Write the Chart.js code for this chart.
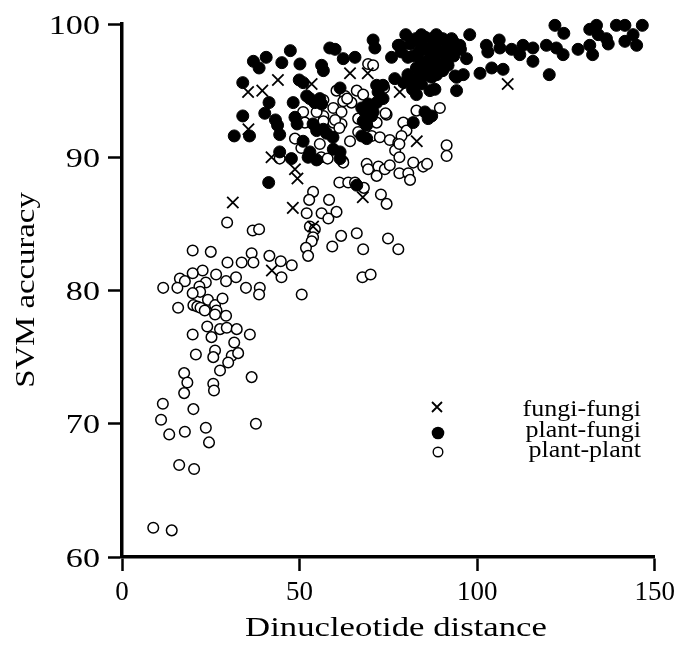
<!DOCTYPE html>
<html>
<head>
<meta charset="utf-8">
<script src="https://cdn.jsdelivr.net/npm/chart.js@4.4.1/dist/chart.umd.min.js"></script>
<style>
  html, body { margin: 0; padding: 0; background: #fff; }
  #chart { display: block; }
</style>
</head>
<body>
<canvas id="chart" width="681" height="646"></canvas>
<script>
// ── Data ───────────────────────────────────────────────────────────────────

const seriesLabels = ['fungi-fungi', 'plant-fungi', 'plant-plant'];
const xTicks = [0, 50, 100, 150];
const yTicks = [60, 70, 80, 90, 100];

// [dinucleotide distance, SVM accuracy]
const fungiFungi = [
  [31.2, 86.6], [35.5, 94.9], [35.6, 92.1], [39.5, 95.0], [43.9, 95.8], [42.1, 90.0],
  [42.2, 81.5], [48.1, 86.2], [48.7, 89.1], [49.4, 88.4], [53.4, 95.5], [53.8, 84.8],
  [64.2, 96.3], [69.2, 96.3], [67.8, 87.0], [78.2, 94.9], [83.0, 91.2], [108.6, 95.5],
];

const plantFungi = [
  [34.0, 95.6], [37.0, 97.2], [38.6, 96.7], [40.6, 97.5], [45.0, 97.1], [47.4, 98.0],
  [49.9, 95.8], [31.6, 91.6], [35.9, 91.6], [34.0, 93.1], [41.4, 94.1], [40.2, 93.3],
  [43.2, 92.8], [43.8, 92.4], [44.4, 91.7], [44.4, 90.4], [41.3, 88.1], [48.2, 94.1],
  [48.7, 93.0], [49.3, 92.5], [47.7, 89.9],
  [58.5, 98.2], [60.0, 98.1], [62.3, 97.4], [65.6, 97.5], [70.7, 98.8], [71.2, 98.2],
  [75.9, 97.5], [78.2, 98.4], [79.9, 99.2], [84.3, 99.2], [82.0, 97.6], [82.9, 96.7],
  [84.8, 96.9], [85.8, 98.1], [87.2, 98.9], [87.6, 97.2], [89.5, 98.9], [91.4, 98.6],
  [93.2, 98.7], [95.1, 98.4], [97.9, 99.2], [89.5, 97.9], [91.4, 97.6], [92.8, 97.9],
  [89.5, 96.9], [91.8, 96.9], [88.6, 96.2], [87.2, 96.0], [86.2, 96.5], [83.9, 96.4],
  [82.0, 95.7], [84.3, 95.5], [86.7, 95.0], [88.1, 95.1], [94.2, 96.0], [96.1, 96.2],
  [97.0, 97.4], [94.2, 95.0], [82.9, 94.7], [85.3, 93.4], [87.2, 93.1], [86.2, 92.9],
  [82.0, 92.6], [76.8, 95.9], [73.5, 95.4], [72.1, 94.9], [73.5, 94.4], [71.7, 94.1],
  [69.3, 94.0], [70.7, 93.4], [68.4, 93.4], [67.5, 93.7], [71.7, 95.4], [50.1, 97.0],
  [56.2, 96.9], [56.7, 96.5], [51.0, 95.6], [52.0, 94.6], [52.9, 94.4], [55.7, 94.4],
  [56.2, 94.0], [54.3, 94.1], [61.4, 95.2], [68.9, 92.4], [67.9, 92.7], [70.3, 93.1],
  [67.5, 91.6], [68.9, 91.4], [53.8, 92.5], [54.8, 92.0], [56.7, 92.1], [57.6, 91.8],
  [59.4, 91.5], [59.5, 90.6], [61.4, 90.4], [52.9, 90.4], [52.4, 90.0], [54.8, 89.8],
  [51.0, 91.2], [61.4, 89.9], [66.1, 87.9],
  [80.5, 97.5], [81.2, 98.5], [82.7, 98.9], [84.2, 98.4], [85.4, 99.0], [88.5, 99.2],
  [90.3, 98.9], [92.8, 98.9], [94.0, 98.4], [91.6, 97.9], [89.1, 97.8], [86.7, 97.5],
  [84.2, 97.2], [80.5, 96.2], [83.0, 95.9], [85.5, 96.2], [87.3, 96.8], [89.1, 96.8],
  [91.0, 97.2], [93.4, 97.6], [95.3, 98.1], [87.9, 96.4], [90.3, 96.5], [83.6, 97.9],
  [86.1, 98.1], [81.8, 95.1], [79.3, 95.6], [88.5, 98.2], [77.8, 98.4], [78.7, 97.9],
  [102.6, 98.4], [103.0, 97.9], [106.2, 98.8], [106.4, 98.2], [109.7, 98.1], [112.0, 97.7],
  [112.9, 98.4], [115.7, 98.2], [115.7, 97.2], [119.5, 98.4], [122.3, 98.2], [124.2, 97.7],
  [121.9, 99.9], [124.4, 99.3], [120.3, 96.2], [128.4, 98.1], [131.7, 98.4], [132.5, 97.7],
  [131.7, 99.6], [133.6, 99.9], [134.1, 99.2], [136.4, 98.9], [136.9, 98.5], [139.2, 99.9],
  [141.6, 99.9], [141.6, 98.7], [143.9, 99.2], [144.9, 98.4], [146.5, 99.9], [100.8, 96.3],
  [104.1, 96.7], [107.3, 96.6], [93.8, 96.1],
];

const plantPlant = [
  [69.3, 97.0], [70.7, 96.9], [60.4, 95.0], [62.8, 94.6], [66.1, 95.0], [67.9, 94.7],
  [64.6, 94.1], [62.3, 94.2], [59.5, 93.7], [61.8, 93.4], [55.7, 94.1], [51.0, 93.4],
  [51.5, 92.6], [56.7, 93.1], [59.5, 92.6], [61.8, 92.5], [66.5, 92.9], [71.7, 92.6],
  [74.5, 93.2], [68.9, 92.6], [66.5, 91.9], [70.3, 91.6], [72.6, 91.5], [75.4, 91.3],
  [77.8, 91.1], [79.2, 92.6], [80.1, 92.0], [78.7, 91.6], [82.9, 93.5], [89.5, 93.7],
  [91.4, 90.9], [91.4, 90.1], [64.2, 91.2], [55.7, 91.0], [73.8, 95.2], [74.2, 93.3],
  [63.4, 94.4], [60.0, 92.8], [61.2, 92.2], [54.8, 93.4], [56.7, 92.7], [56.7, 94.3],
  [56.1, 90.0], [57.9, 89.9], [62.2, 89.7], [48.7, 91.4], [50.5, 90.7], [44.4, 89.9],
  [76.9, 90.5], [78.1, 90.0], [78.1, 91.0],
  [62.3, 89.6], [68.9, 89.5], [69.3, 89.1], [72.2, 89.3], [71.7, 88.6], [74.0, 89.1],
  [75.4, 89.4], [78.1, 88.8], [80.6, 88.8], [81.1, 88.3], [82.0, 89.6], [84.8, 89.3],
  [85.9, 89.5], [61.2, 88.1], [63.7, 88.1], [65.6, 88.1], [68.1, 87.7], [72.9, 87.2],
  [74.5, 86.5], [53.8, 87.4], [52.7, 86.8], [58.3, 86.8], [52.0, 85.8], [56.2, 85.8],
  [58.1, 85.4], [60.4, 85.9], [52.9, 84.8], [54.3, 84.6], [53.8, 84.0], [53.4, 83.7],
  [51.8, 83.2], [52.4, 82.6], [59.2, 83.3], [61.7, 84.1], [66.1, 84.3], [67.9, 83.1],
  [74.9, 83.9], [77.8, 83.1], [67.7, 81.0], [70.0, 81.2], [50.6, 79.7],
  [29.6, 85.1], [36.8, 84.5], [38.6, 84.6], [19.9, 83.0], [25.0, 82.9], [29.7, 82.1],
  [33.7, 82.1], [36.5, 82.8], [37.0, 82.1], [41.5, 82.6], [44.7, 82.2], [47.8, 81.9],
  [44.9, 81.0], [38.8, 80.2], [38.6, 79.7], [34.9, 80.2], [32.1, 81.0], [29.3, 80.7],
  [26.5, 81.2], [22.7, 81.5], [19.9, 81.3], [16.3, 80.9], [17.7, 80.7], [11.6, 80.2],
  [15.6, 80.2], [23.6, 80.6], [21.8, 80.3], [22.0, 79.9], [19.9, 79.8], [20.1, 78.9],
  [21.2, 78.8], [22.1, 78.7], [23.3, 78.5], [24.2, 79.3], [26.2, 78.9], [26.6, 78.5],
  [28.3, 79.4], [29.3, 78.1], [26.2, 78.2], [15.8, 78.7],
  [24.0, 77.3], [27.6, 77.1], [29.5, 77.2], [32.3, 77.1], [19.9, 76.7], [25.2, 76.5],
  [31.6, 76.1], [36.0, 76.7], [20.8, 75.2], [26.2, 75.5], [25.7, 75.0], [30.9, 75.1],
  [32.7, 75.3], [29.9, 74.6], [27.6, 74.0], [17.5, 73.8], [18.4, 73.1], [17.5, 72.3],
  [25.7, 73.0], [25.9, 72.5], [36.5, 73.5], [11.5, 71.5], [20.1, 71.1], [11.0, 70.3],
  [13.3, 69.2], [17.7, 69.4], [23.6, 69.7], [24.5, 68.6], [37.7, 70.0],
  [16.1, 66.9], [20.3, 66.6], [8.8, 62.2], [14.0, 62.0],
];

// ── Helpers ────────────────────────────────────────────────────────────────

const SERIF = '"Liberation Serif", "Times New Roman", Times, serif';
const toPoints = (arr) => arr.map(([x, y]) => ({ x, y }));

// the figure's type is a wide Times, so text is stretched horizontally
function wideText(ctx, text, x, y, size, sx, align, rot = 0) {
  ctx.save();
  ctx.translate(x, y);
  if (rot) ctx.rotate(rot);
  ctx.scale(sx, 1);
  ctx.font = size + 'px ' + SERIF;
  ctx.textAlign = align;
  ctx.textBaseline = 'alphabetic';
  ctx.fillText(text, 0, 0);
  ctx.restore();
}

const textPlugin = {
  id: 'textPlugin',
  afterDraw(chart) {
    const ctx = chart.ctx;
    const yScale = chart.scales.y;
    ctx.save();
    ctx.fillStyle = '#000';

    // y tick labels
    yTicks.forEach(v => {
      wideText(ctx, String(v), 100, yScale.getPixelForValue(v) + 9.5, 28, 1.22, 'right');
    });

    // axis titles
    wideText(ctx, 'Dinucleotide distance', 396, 636, 28, 1.24, 'center');
    wideText(ctx, 'SVM accuracy', 34, 290, 28, 1.17, 'center', -Math.PI / 2);

    // legend
    wideText(ctx, seriesLabels[0], 641, 416, 23, 1.13, 'right');
    wideText(ctx, seriesLabels[1], 641, 437, 23, 1.13, 'right');
    wideText(ctx, seriesLabels[2], 641, 457, 23, 1.13, 'right');

    ctx.strokeStyle = '#000';
    ctx.lineWidth = 1.8;
    ctx.beginPath();
    ctx.moveTo(432, 402); ctx.lineTo(442, 412);
    ctx.moveTo(442, 402); ctx.lineTo(432, 412);
    ctx.stroke();

    ctx.beginPath();
    ctx.arc(438, 433, 6.3, 0, Math.PI * 2);
    ctx.fill();

    ctx.beginPath();
    ctx.lineWidth = 1.4;
    ctx.fillStyle = '#fff';
    ctx.arc(438, 452, 4.8, 0, Math.PI * 2);
    ctx.fill();
    ctx.stroke();
    ctx.restore();
  },
};

// ── Chart ──────────────────────────────────────────────────────────────────

const axisGrid = {
  drawOnChartArea: false,
  drawTicks: true,
  tickLength: 14,
  tickWidth: 2.5,
  tickColor: '#000',
};

new Chart(document.getElementById('chart'), {
  type: 'scatter',
  data: {
    datasets: [
      {
        label: seriesLabels[0],
        data: toPoints(fungiFungi),
        pointStyle: 'crossRot',
        radius: 8,
        borderWidth: 1.8,
        borderColor: '#000',
        backgroundColor: '#000',
        order: 0,
        clip: false,
      },
      {
        label: seriesLabels[1],
        data: toPoints(plantFungi),
        pointStyle: 'circle',
        radius: 6,
        borderWidth: 1,
        borderColor: '#000',
        backgroundColor: '#000',
        order: 1,
        clip: false,
      },
      {
        label: seriesLabels[2],
        data: toPoints(plantPlant),
        pointStyle: 'circle',
        radius: 5.3,
        borderWidth: 1.5,
        borderColor: '#000',
        backgroundColor: '#fff',
        order: 2,
        clip: false,
      },
    ],
  },
  options: {
    responsive: false,
    animation: false,
    events: [],
    devicePixelRatio: 1,
    layout: { padding: { top: 24, right: 26, left: 0, bottom: 0 } },
    plugins: {
      legend: { display: false },
      tooltip: { enabled: false },
    },
    scales: {
      x: {
        type: 'linear',
        min: xTicks[0],
        max: xTicks[xTicks.length - 1],
        afterBuildTicks: (s) => { s.ticks = xTicks.map(v => ({ value: v })); },
        afterFit: (s) => { s.height = 89; },
        ticks: {
          color: '#000',
          font: { family: SERIF, size: 27 },
          padding: 6,
          maxRotation: 0,
        },
        grid: axisGrid,
        border: { display: true, color: '#000', width: 3.5 },
      },
      y: {
        type: 'linear',
        min: yTicks[0],
        max: yTicks[yTicks.length - 1],
        afterBuildTicks: (s) => { s.ticks = yTicks.map(v => ({ value: v })); },
        afterFit: (s) => { s.width = 122; },
        ticks: {
          // drawn by textPlugin (wider type), keep the slot only
          color: 'rgba(0,0,0,0)',
          font: { family: SERIF, size: 28 },
          padding: 6,
        },
        grid: axisGrid,
        border: { display: true, color: '#000', width: 3.5 },
      },
    },
  },
  plugins: [textPlugin],
});
</script>
</body>
</html>
